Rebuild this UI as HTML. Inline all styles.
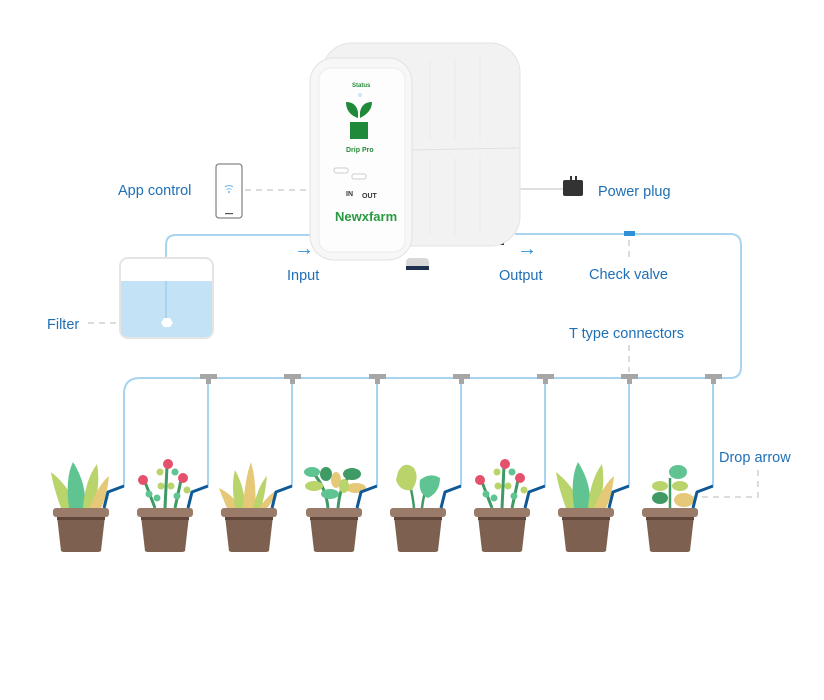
<!DOCTYPE html>
<html><head><meta charset="utf-8"><style>
html,body{margin:0;padding:0;background:#fff;width:824px;height:700px;overflow:hidden}
text{font-family:"Liberation Sans",sans-serif;font-size:14.5px;fill:#1f6fb5}
</style></head><body>
<svg width="824" height="700" viewBox="0 0 824 700" xmlns="http://www.w3.org/2000/svg">
<defs>
<g id="pot">
<path d="M-24,8 L24,8 L20,43 Q19,44 17,44 L-17,44 Q-19,44 -20,43 Z" fill="#7d604f"/>
<rect x="-24" y="8" width="48" height="4" fill="#5f4638"/>
<rect x="-28" y="0" width="56" height="9" rx="3" fill="#9a7a68"/>
</g>
<g id="grass">
<path d="M-20,0 Q-28,-22 -30,-36 Q-12,-22 -4,0Z" fill="#b9d46a"/>
<path d="M-12,0 Q-16,-30 -8,-46 Q6,-24 4,0Z" fill="#5fc491"/>
<path d="M2,0 Q4,-28 16,-44 Q20,-22 12,0Z" fill="#b9d46a"/>
<path d="M8,0 Q18,-24 28,-32 Q26,-12 20,0Z" fill="#e5c978"/>
</g>
<g id="grass2">
<path d="M-22,0 Q-28,-14 -30,-20 Q-14,-12 -10,0Z" fill="#e5c978"/>
<path d="M-14,0 Q-18,-24 -14,-38 Q-4,-20 -4,0Z" fill="#b9d46a"/>
<path d="M-6,0 Q-4,-30 2,-46 Q8,-24 6,0Z" fill="#e5c978"/>
<path d="M4,0 Q10,-24 18,-32 Q16,-12 12,0Z" fill="#b9d46a"/>
<path d="M10,0 Q20,-14 28,-18 Q24,-6 18,0Z" fill="#e5c978"/>
</g>
<g id="flower">
<path d="M-10,0 L-20,-26 M0,0 L2,-42 M10,0 L16,-28" stroke="#3f9a64" stroke-width="3" fill="none"/>
<circle cx="-22" cy="-28" r="5" fill="#e5506a"/><circle cx="3" cy="-44" r="5" fill="#e5506a"/><circle cx="18" cy="-30" r="5" fill="#e5506a"/>
<circle cx="-16" cy="-14" r="3.5" fill="#5fc491"/><circle cx="-8" cy="-10" r="3.5" fill="#5fc491"/><circle cx="-4" cy="-22" r="3.5" fill="#b9d46a"/><circle cx="6" cy="-22" r="3.5" fill="#b9d46a"/><circle cx="-5" cy="-36" r="3.5" fill="#b9d46a"/><circle cx="10" cy="-36" r="3.5" fill="#5fc491"/><circle cx="12" cy="-12" r="3.5" fill="#5fc491"/><circle cx="22" cy="-18" r="3.5" fill="#b9d46a"/>
</g>
<g id="leafy">
<path d="M-6,0 Q-8,-20 -20,-34 M4,0 Q6,-22 14,-30" stroke="#3f9a64" stroke-width="3" fill="none"/>
<ellipse cx="-22" cy="-36" rx="8" ry="5" fill="#5fc491"/><ellipse cx="-8" cy="-34" rx="6" ry="7" fill="#3f9a64"/><ellipse cx="-20" cy="-22" rx="9" ry="5" fill="#b9d46a"/><ellipse cx="2" cy="-28" rx="5" ry="8" fill="#e5c978"/><ellipse cx="-4" cy="-14" rx="9" ry="5" fill="#5fc491"/><ellipse cx="18" cy="-34" rx="9" ry="6" fill="#3f9a64"/><ellipse cx="22" cy="-20" rx="10" ry="5" fill="#e5c978"/><ellipse cx="10" cy="-22" rx="5" ry="7" fill="#b9d46a"/>
</g>
<g id="oak">
<path d="M-4,0 Q-6,-20 -12,-34 M4,0 Q6,-18 12,-26" stroke="#3f9a64" stroke-width="2.5" fill="none"/>
<path d="M-20,-36 Q-14,-48 -4,-40 Q2,-30 -6,-18 Q-18,-16 -22,-28Z" fill="#b9d46a"/>
<path d="M2,-28 Q12,-36 22,-30 Q22,-16 10,-10 Q0,-14 2,-28Z" fill="#5fc491"/>
</g>
<g id="sprout">
<path d="M0,0 L0,-30" stroke="#3f9a64" stroke-width="2.5"/>
<ellipse cx="8" cy="-36" rx="9" ry="7" fill="#5fc491"/><ellipse cx="-10" cy="-22" rx="8" ry="5" fill="#b9d46a"/><ellipse cx="10" cy="-22" rx="8" ry="5" fill="#b9d46a"/><ellipse cx="-10" cy="-10" rx="8" ry="6" fill="#3f9a64"/><ellipse cx="14" cy="-8" rx="10" ry="7" fill="#e5c978"/>
</g>
</defs>

<!-- pipes -->
<g fill="none" stroke="#a9d4ef" stroke-width="2">
<path d="M166,320 L166,245 Q166,235 176,235 L316,235"/>
<path d="M515,234 L730,234 Q741,234 741,245 L741,367 Q741,378 730,378 L140,378 Q124,378 124,394 L124,486"/>
<path d="M208,380 V486 M292,380 V486 M377,380 V486 M461,380 V486 M545,380 V486 M629,380 V486 M713,380 V486"/>
</g>
<!-- T connectors -->
<g fill="#a6a6a6">
<rect x="200" y="374" width="17" height="5"/><rect x="206" y="378" width="5" height="6"/>
<rect x="284" y="374" width="17" height="5"/><rect x="290" y="378" width="5" height="6"/>
<rect x="369" y="374" width="17" height="5"/><rect x="375" y="378" width="5" height="6"/>
<rect x="453" y="374" width="17" height="5"/><rect x="459" y="378" width="5" height="6"/>
<rect x="537" y="374" width="17" height="5"/><rect x="543" y="378" width="5" height="6"/>
<rect x="621" y="374" width="17" height="5"/><rect x="627" y="378" width="5" height="6"/>
<rect x="705" y="374" width="17" height="5"/><rect x="711" y="378" width="5" height="6"/>
</g>
<rect x="624" y="231" width="11" height="5" fill="#2d8fd6"/>

<!-- dashed lines -->
<g stroke="#c8c8c8" stroke-width="1.3" stroke-dasharray="6,5" fill="none">
<path d="M245,190 H310"/>
<path d="M88,323 H160"/>
<path d="M629,240 V260"/>
<path d="M629,345 V372"/>
<path d="M758,470 V497 H690"/>
</g>
<path d="M520,189 H563" stroke="#ccc" stroke-width="1.3"/>

<!-- plug -->
<rect x="563" y="180" width="20" height="16" rx="2" fill="#333"/>
<rect x="570" y="176" width="2" height="5" fill="#333"/><rect x="575" y="176" width="2" height="5" fill="#333"/>

<!-- phone -->
<rect x="216" y="164" width="26" height="54" rx="3" fill="#fff" stroke="#888" stroke-width="1.3"/>
<path d="M225,187 Q229,184 233,187 M226.5,189.5 Q229,188 231.5,189.5" stroke="#6ab3e6" stroke-width="1" fill="none"/>
<circle cx="229" cy="192" r="1" fill="#6ab3e6"/>
<rect x="225" y="213" width="8" height="1.2" fill="#555"/>

<!-- tank -->
<rect x="120" y="258" width="93" height="80" rx="8" fill="#fff" stroke="#e4e4e4" stroke-width="2"/>
<path d="M121,281 H212 V330 Q212,337 205,337 H128 Q121,337 121,330Z" fill="#c3e2f5"/>
<path d="M166,281 V318" stroke="#a9d4ef" stroke-width="2"/>
<path d="M161,323 L164,318 H170 L173,323 L170,327 H164Z" fill="#fff"/>

<!-- device -->
<rect x="482" y="232" width="22" height="12" rx="4" fill="#d8d8d8"/><rect x="482" y="242" width="22" height="3" fill="#1e3050"/>
<rect x="322" y="43" width="198" height="203" rx="30" fill="#f2f2f2" stroke="#e3e3e3"/>
<path d="M412,150 L519,148" stroke="#e0e0e0"/>
<path d="M430,60 V140 M455,58 V140 M480,56 V140 M430,160 V235 M455,158 V235 M480,156 V235" stroke="#ebebeb"/>
<rect x="310" y="58" width="102" height="202" rx="24" fill="#f7f7f7" stroke="#e2e2e2"/>
<rect x="319" y="68" width="86" height="184" rx="12" fill="#fdfdfd" stroke="#ececec"/>
<rect x="406" y="258" width="23" height="11" rx="4" fill="#d8d8d8"/><rect x="406" y="266" width="23" height="4" fill="#1e3050"/>
<text x="352" y="87" style="font-size:6px;fill:#2a8a3a;font-weight:bold">Status</text>
<circle cx="360" cy="95" r="2" fill="#cde6fb"/>
<path d="M358,118 Q346,114 346,102 Q356,102 358,112Z M360,118 Q372,112 372,102 Q362,102 360,112Z" fill="#1e8a3a"/>
<rect x="350" y="122" width="18" height="17" fill="#1e8a3a"/>
<text x="346" y="152" style="font-size:7px;fill:#2a8a3a;font-weight:bold">Drip  Pro</text>
<rect x="334" y="168" width="14" height="5" rx="2" fill="#fff" stroke="#ccc"/><rect x="352" y="174" width="14" height="5" rx="2" fill="#fff" stroke="#ccc"/>
<text x="346" y="196" style="font-size:7px;fill:#333;font-weight:bold">IN</text>
<text x="362" y="198" style="font-size:7px;fill:#333;font-weight:bold">OUT</text>
<text x="335" y="221" style="font-size:13px;fill:#2a9a40;font-weight:bold">Newxfarm</text>

<!-- arrows -->
<text x="294" y="255" style="font-size:20px;fill:#2d8fd6">→</text>
<text x="517" y="255" style="font-size:20px;fill:#2d8fd6">→</text>

<!-- labels -->
<text x="118" y="195">App control</text>
<text x="598" y="196">Power plug</text>
<text x="287" y="280">Input</text>
<text x="499" y="280">Output</text>
<text x="589" y="279">Check valve</text>
<text x="47" y="329">Filter</text>
<text x="569" y="338">T type connectors</text>
<text x="719" y="462">Drop arrow</text>

<!-- plants -->
<g transform="translate(81,508)"><use href="#grass"/><use href="#pot"/></g>
<g transform="translate(165,508)"><use href="#flower"/><use href="#pot"/></g>
<g transform="translate(249,508)"><use href="#grass2"/><use href="#pot"/></g>
<g transform="translate(334,508)"><use href="#leafy"/><use href="#pot"/></g>
<g transform="translate(418,508)"><use href="#oak"/><use href="#pot"/></g>
<g transform="translate(502,508)"><use href="#flower"/><use href="#pot"/></g>
<g transform="translate(586,508)"><use href="#grass"/><use href="#pot"/></g>
<g transform="translate(670,508)"><use href="#sprout"/><use href="#pot"/></g>

<!-- drippers -->
<g stroke="#0f5a96" stroke-width="3" fill="none" stroke-linejoin="round">
<path d="M124,486 L108,492 L104,508"/>
<path d="M208,486 L192,492 L188,508"/>
<path d="M292,486 L276,492 L272,508"/>
<path d="M377,486 L361,492 L357,508"/>
<path d="M461,486 L445,492 L441,508"/>
<path d="M545,486 L529,492 L525,508"/>
<path d="M629,486 L613,492 L609,508"/>
<path d="M713,486 L697,492 L693,508"/>
</g>
</svg>
</body></html>
